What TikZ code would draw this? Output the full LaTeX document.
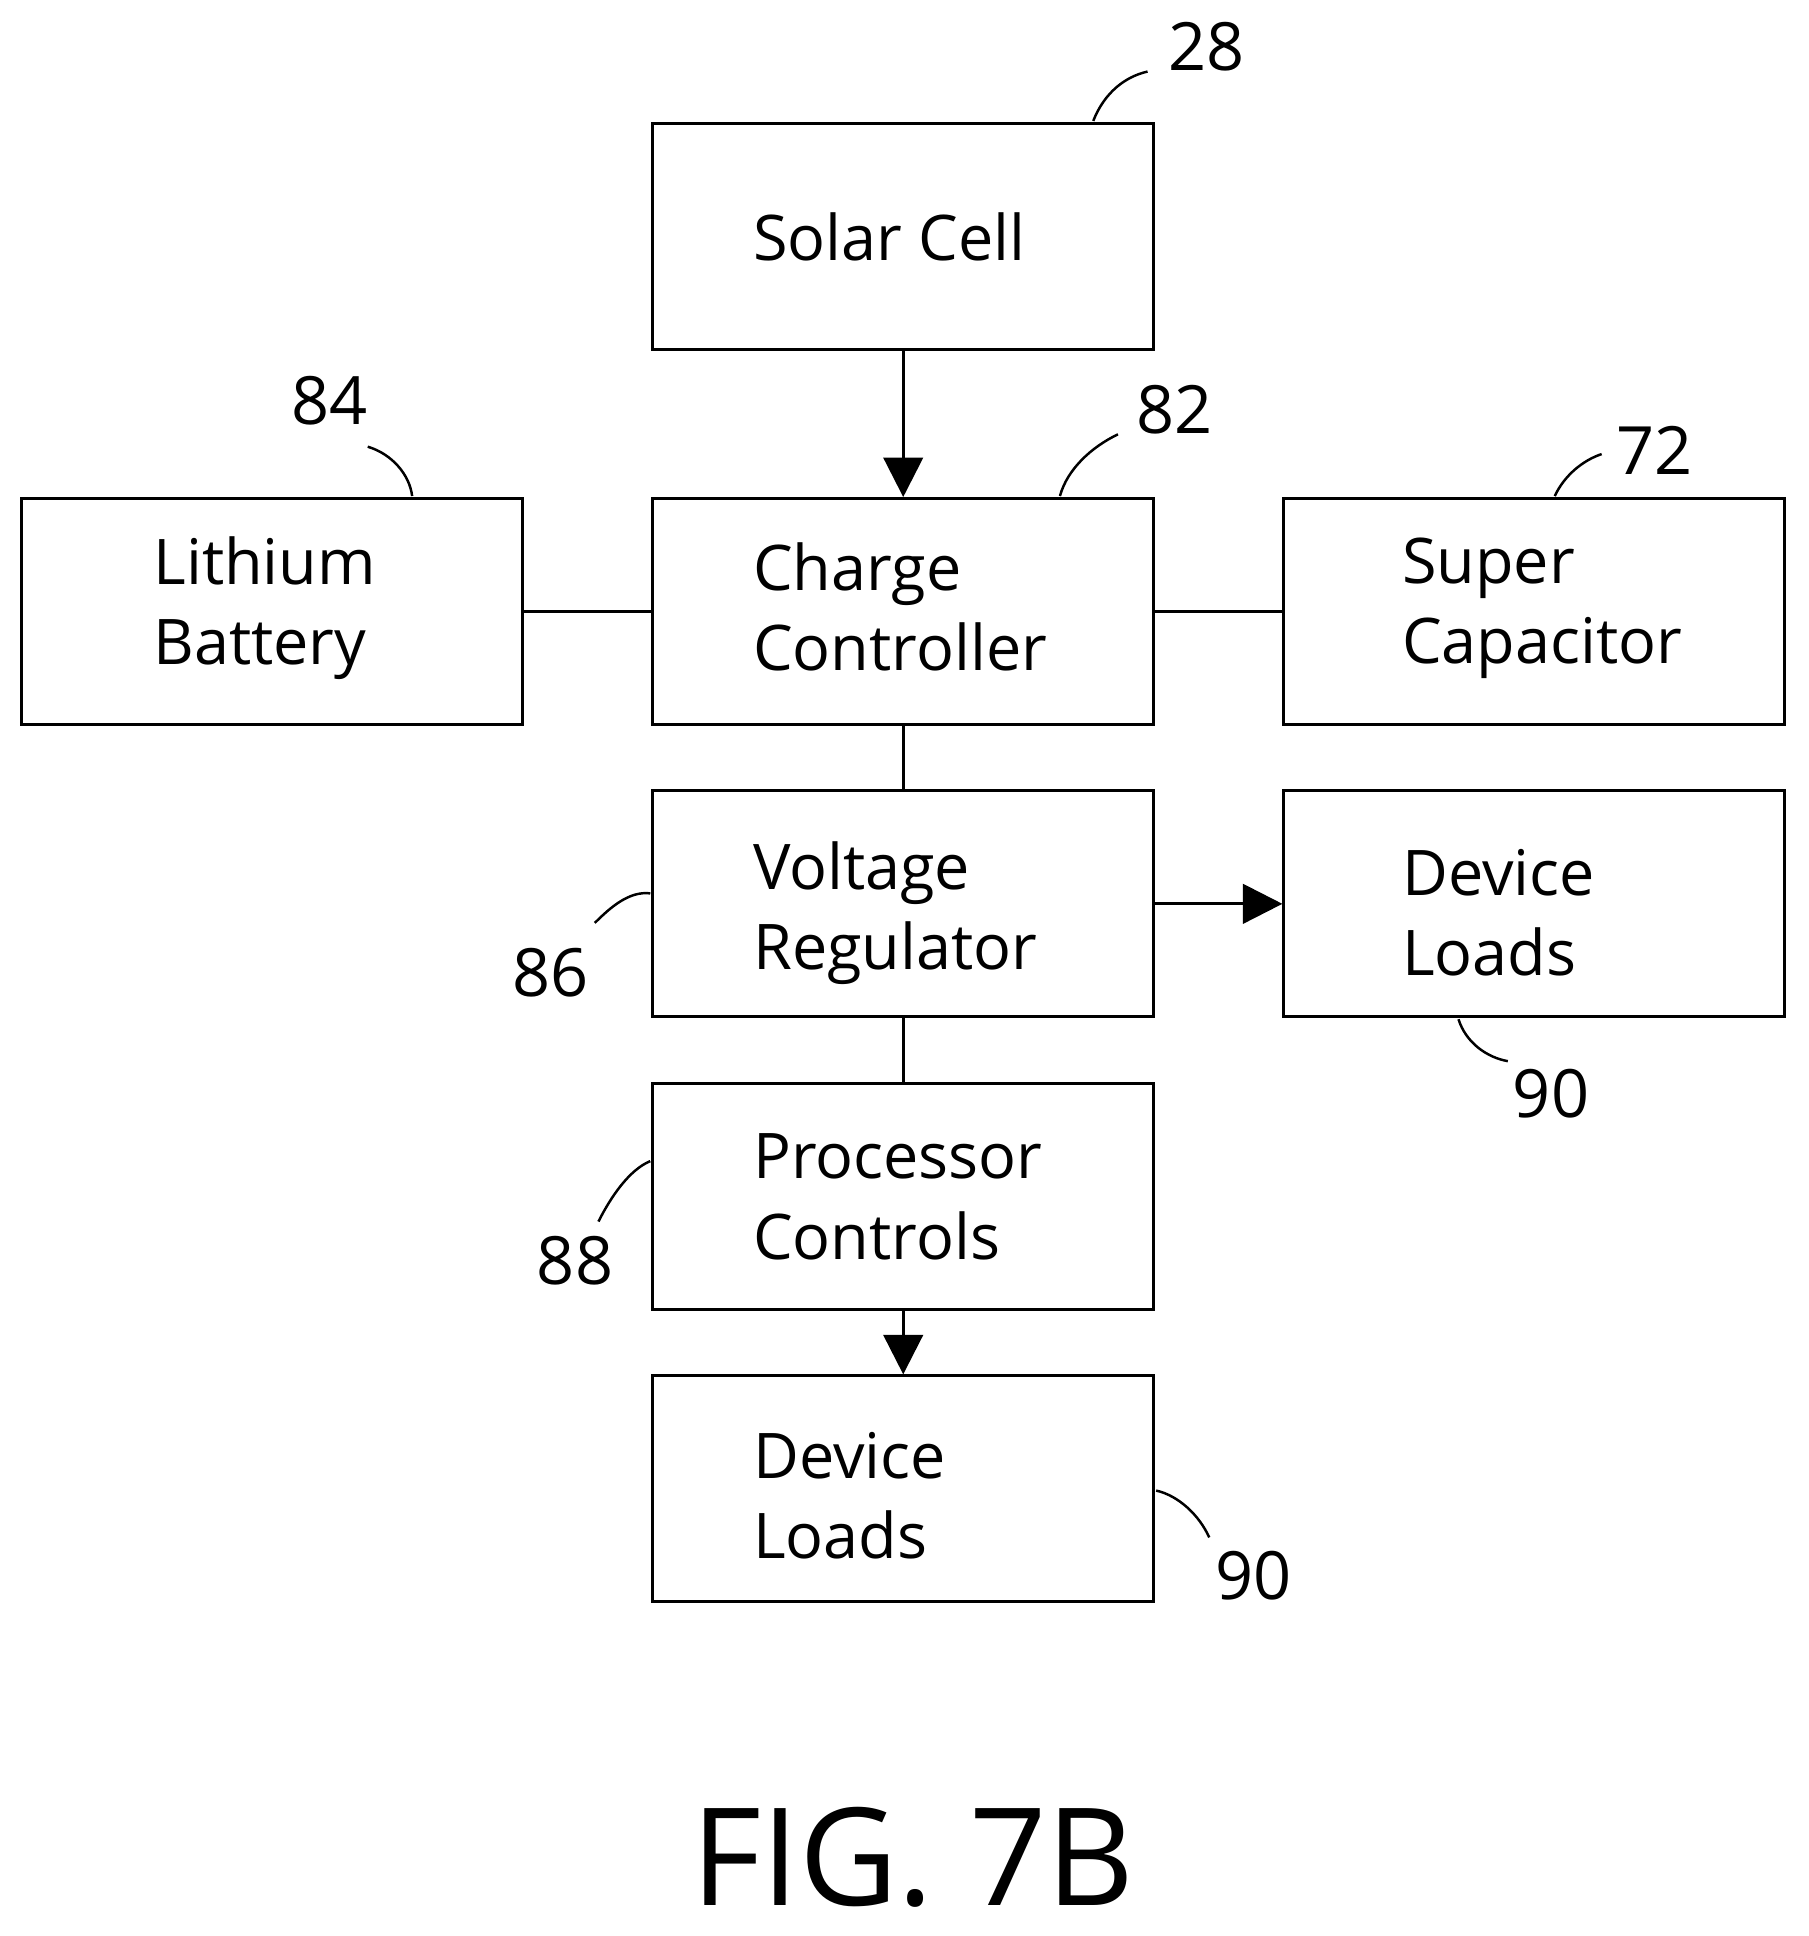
\documentclass[tikz,border=0pt]{standalone}
\usepackage{fontspec}
\setmainfont{Open Sans}
\usetikzlibrary{arrows.meta}
\begin{document}
\begin{tikzpicture}[x=0.5pt,y=-0.5pt,
 box/.style={draw,line width=1.2pt,minimum width=203pt,minimum height=91.5pt,inner sep=0pt},
 txt/.style={anchor=west,align=left,font=\fontsize{25.5}{32.5}\selectfont,inner sep=0pt},
 num/.style={font=\fontsize{27}{30}\selectfont,inner sep=1pt},
 ln/.style={line width=1.2pt},
 arr/.style={ln,-{Triangle[length=16pt,width=16pt]}},
 lead/.style={line width=1pt}]
\useasboundingbox (0,0) rectangle (1466,1569);
\node[box] (sol) at (732,191.5) {};
\node[box] (lit) at (220.5,495.5) {};
\node[box] (cc) at (732,495.5) {};
\node[box] (sc) at (1243.5,495.5) {};
\node[box] (vr) at (732,732.5) {};
\node[box] (dl1) at (1243.5,732.5) {};
\node[box] (pc) at (732,969.5) {};
\node[box] (dl2) at (732,1206.5) {};
\node[txt] (t1) at (610,192) {Solar Cell};
\node[txt] (t2) at (124,493) {Lithium\\Battery};
\node[txt] (t3) at (610,492) {Charge\\Controller};
\node[txt] (t4) at (1136,493) {Super\\Capacitor};
\node[txt] (t5) at (610,740) {Voltage\\Regulator};
\node[txt] (t6) at (1136,740) {Device\\Loads};
\node[txt] (t7) at (610,970) {Processor\\Controls};
\node[txt] (t8) at (610,1212) {Device\\Loads};
\draw[arr] (sol) -- (cc);
\draw[ln] (lit) -- (cc);
\draw[ln] (cc) -- (sc);
\draw[ln] (cc) -- (vr);
\draw[arr] (vr) -- (dl1);
\draw[ln] (vr) -- (pc);
\draw[arr] (pc) -- (dl2);
\node[num] (n28) at (978,38) {28};
\node[num] (n84) at (267,325) {84};
\node[num] (n82) at (952,332) {82};
\node[num] (n72) at (1341,365) {72};
\node[num] (n86) at (446,788) {86};
\node[num] (n90a) at (1257,886) {90};
\node[num] (n88) at (466,1022) {88};
\node[num] (n90b) at (1016,1277) {90};
\draw[lead] (886,98) .. controls (895,75) and (912,62) .. (930,58);
\draw[lead] (298,362) .. controls (318,368) and (332,385) .. (334,402);
\draw[lead] (859,402) .. controls (865,380) and (885,362) .. (906,352);
\draw[lead] (1260,402) .. controls (1268,385) and (1283,373) .. (1298,368);
\draw[lead] (482,748) .. controls (495,735) and (510,722) .. (527,724);
\draw[lead] (1182,826) .. controls (1188,845) and (1205,857) .. (1222,860);
\draw[lead] (485,990) .. controls (495,970) and (510,948) .. (527,941);
\draw[lead] (937,1208) .. controls (955,1212) and (972,1228) .. (980,1246);
\node[font=\fontsize{55}{55}\selectfont,inner sep=0pt] (fig) at (740,1505) {FIG. 7B};
\end{tikzpicture}
\end{document}
